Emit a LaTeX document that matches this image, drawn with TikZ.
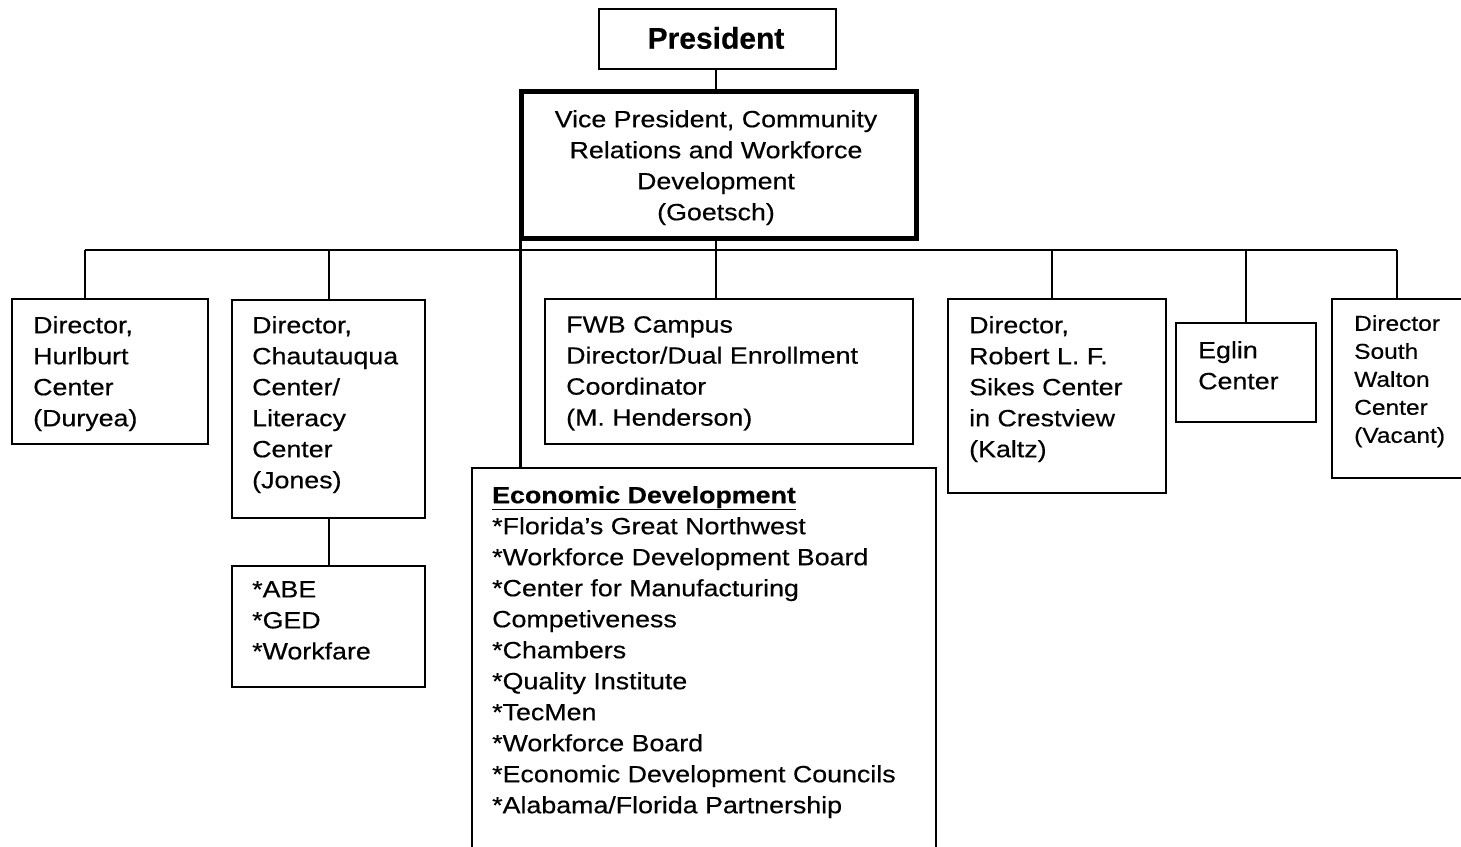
\documentclass[tikz,border=0pt]{standalone}
\usepackage{fontspec}
\setmainfont[FakeStretch=1.14, FakeBold=0.4]{Liberation Sans}
\newfontfamily\presfont[FakeBold=0.4]{Liberation Sans}
\begin{document}
\begin{tikzpicture}[x=1pt,y=-1pt,
  box/.style={draw, line width=2.2pt, inner sep=0pt, anchor=north west},
  txt/.style={inner sep=0pt, anchor=north west, align=left, font=\fontsize{23.5}{31}\selectfont},
  line/.style={line width=2.2pt}]
\useasboundingbox (0,0) rectangle (1461,846);
% boxes
\node[box, minimum width=237pt, minimum height=60pt] (pres) at (598,8) {};
\node[box, line width=5pt, minimum width=395pt, minimum height=147pt] (vp) at (519,89) {};
\node[box, minimum width=196pt, minimum height=145pt] (hurl) at (11,298) {};
\node[box, minimum width=193pt, minimum height=218pt] (chau) at (231,299) {};
\node[box, minimum width=193pt, minimum height=121pt] (abe) at (231,565) {};
\node[box, minimum width=368pt, minimum height=145pt] (fwb) at (544,298) {};
\node[box, minimum width=464pt, minimum height=450pt] (econ) at (471,467) {};
\node[box, minimum width=218pt, minimum height=194pt] (sikes) at (947,298) {};
\node[box, minimum width=140pt, minimum height=99pt] (eglin) at (1175,322) {};
\node[box, minimum width=134pt, minimum height=179pt] (sw) at (1331,298) {};
% texts
\node[inner sep=0pt, font=\presfont\fontsize{30}{36}\selectfont\bfseries] (presT) at (716,38) {President};
\node[txt, anchor=north, align=center] (vpT) at (716,110) {Vice President, Community\\Relations and Workforce\\Development\\(Goetsch)};
\node[txt] (hurlT) at (33,316) {Director,\\Hurlburt\\Center\\(Duryea)};
\node[txt] (chauT) at (252,316) {Director,\\Chautauqua\\Center/\\Literacy\\Center\\(Jones)};
\node[txt] (abeT) at (252,581) {*ABE\\*GED\\*Workfare};
\node[txt] (fwbT) at (566,316) {FWB Campus\\Director/Dual Enrollment\\Coordinator\\(M. Henderson)};
\node[txt] (sikesT) at (969,316) {Director,\\Robert L. F.\\Sikes Center\\in Crestview\\(Kaltz)};
\node[txt] (eglinT) at (1198,341) {Eglin\\Center};
\node[txt, font=\fontsize{21.5}{28}\selectfont] (swT) at (1354,315) {Director\\South\\Walton\\Center\\(Vacant)};
\node[txt] (econT) at (492,486) {\underline{\textbf{Economic Development}}\\*Florida's Great Northwest\\*Workforce Development Board\\*Center for Manufacturing\\Competiveness\\*Chambers\\*Quality Institute\\*TecMen\\*Workforce Board\\*Economic Development Councils\\*Alabama/Florida Partnership};
% connectors
\coordinate (busL) at (85,250);
\coordinate (busR) at (1397,250);
\coordinate (busS) at (1052,250);
\coordinate (busM) at (716,250);
\draw[line] (pres.south -| busM) -- (vp.north -| busM);
\draw[line] (busL) -- (busR);
\draw[line] (vp.south -| busM) -- (fwb.north -| busM);
\draw[line] (busL) -- (busL |- hurl.north);
\draw[line] (chau.north |- busL) -- (chau.north);
\draw[line] (busS) -- (busS |- sikes.north);
\draw[line] (eglin.north |- busL) -- (eglin.north);
\draw[line] (busR) -- (busR |- sw.north);
\draw[line] (chau.south) -- (abe.north);
\draw[line] ([xshift=1.5pt]vp.south west) -- ([xshift=1.5pt]vp.south west |- econ.north);
\end{tikzpicture}
\end{document}
